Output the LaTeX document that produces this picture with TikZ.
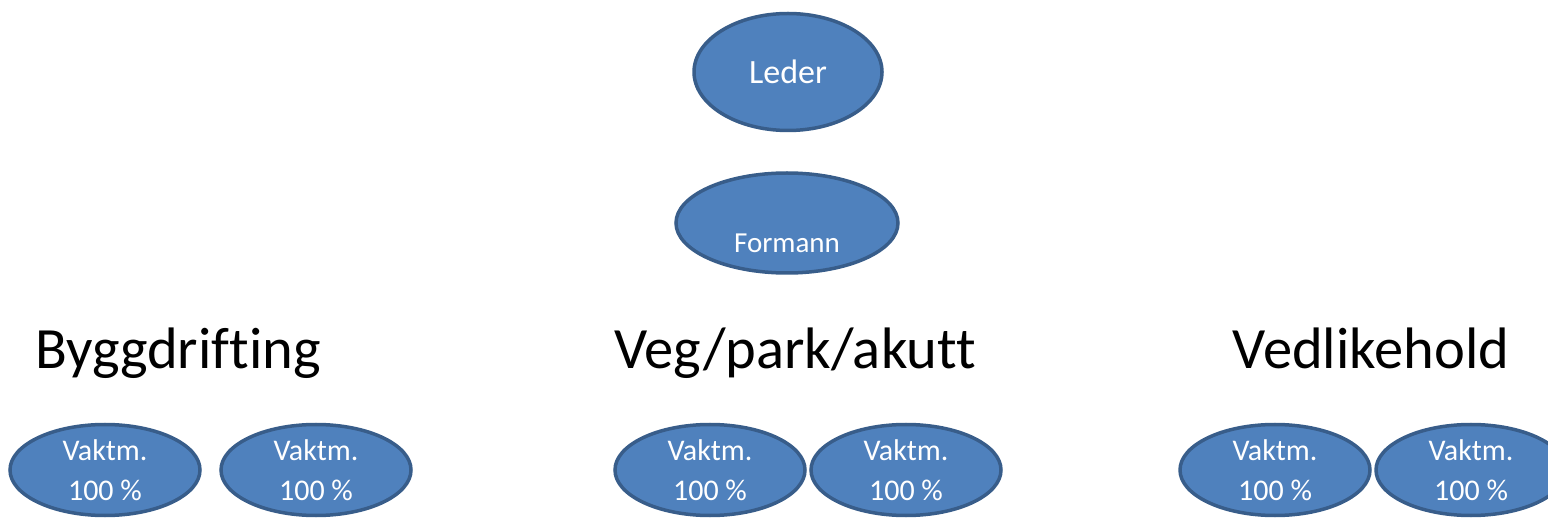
\documentclass[tikz,border=0pt]{standalone}
\usepackage{fontspec}
\setmainfont{Carlito}[Ligatures={NoCommon,NoRare}]
\usetikzlibrary{shapes.geometric}
\definecolor{blobfill}{RGB}{79,129,189}
\definecolor{blobline}{RGB}{56,93,138}
\tikzset{
  blob/.style={ellipse, draw=blobline, fill=blobfill, line width=3.5pt, inner sep=0pt, text=white},
  worker/.style={blob, minimum width=190pt, minimum height=91pt, align=center,
    font=\fontsize{30pt}{40pt}\selectfont},
  heading/.style={anchor=base, inner sep=0pt, font=\fontsize{58.5pt}{66pt}\selectfont},
}
\begin{document}
\begin{tikzpicture}[x=1pt,y=-1pt]
\useasboundingbox (0,0) rectangle (1548,518);
\clip (0,0) rectangle (1548,518);
\node[blob, minimum width=188pt, minimum height=117pt, font=\fontsize{34pt}{40pt}\selectfont] (leder) at (788,72) {Leder};
\node[blob, minimum width=222pt, minimum height=100pt,
  label={[text=white, inner sep=0pt, font=\fontsize{29pt}{34pt}\selectfont, yshift=-20pt]center:Formann}] (formann) at (787,223) {};
\node[heading] (bygg) at (178,369) {Byggdrifting};
\node[heading] (veg) at (795,369) {Veg/park/akutt};
\node[heading] (vedl) at (1371,369) {Vedlikehold};
\node[worker] (b1) at (105,470) {Vaktm.\\100 \%};
\node[worker] (b2) at (316,470) {Vaktm.\\100 \%};
\node[worker] (v1) at (710,470) {Vaktm.\\100 \%};
\node[worker] (v2) at (906,470) {Vaktm.\\100 \%};
\node[worker] (d1) at (1275,470) {Vaktm.\\100 \%};
\node[worker] (d2) at (1471,470) {Vaktm.\\100 \%};
\end{tikzpicture}
\end{document}
